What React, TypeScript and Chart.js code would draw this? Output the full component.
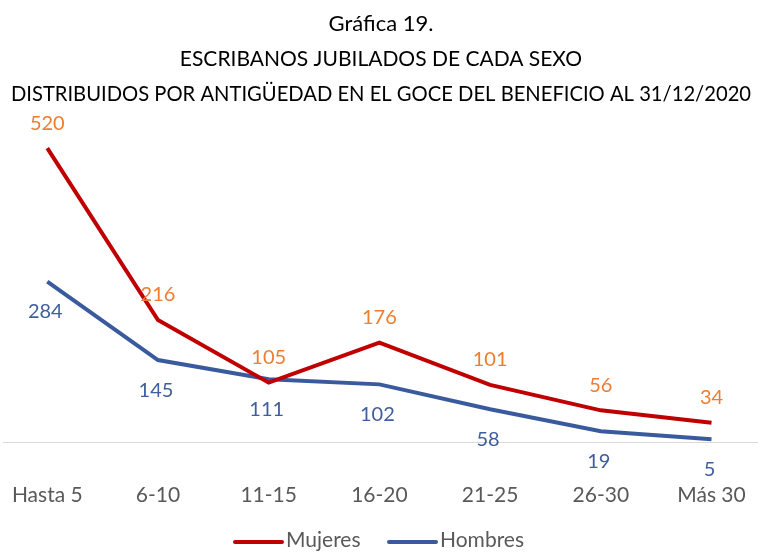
import React, { useEffect, useRef } from "react";
import { Chart, registerables } from "chart.js";

Chart.register(...registerables);

const categories = ["Hasta 5", "6-10", "11-15", "16-20", "21-25", "26-30", "Más 30"];
const mujeres = [520, 216, 105, 176, 101, 56, 34];
const hombres = [284, 145, 111, 102, 58, 19, 5];
const seriesNames = ["Mujeres", "Hombres"];
const titleLines = [
  "Gráfica 19.",
  "ESCRIBANOS JUBILADOS DE CADA SEXO",
  "DISTRIBUIDOS POR ANTIGÜEDAD EN EL GOCE DEL BENEFICIO AL 31/12/2020",
];

const FONT = "Lato, 'Open Sans', sans-serif";
const RED = "#C00000";
const ORANGE = "#ED7D31";
const BLUE = "#3A5A9E";
const BLUE_LABEL = "#3F5E9E";
const GREY = "#595959";

const overlayPlugin = {
  id: "overlay",
  afterDatasetsDraw(chart: any) {
    const ctx = chart.ctx;
    ctx.save();
    ctx.font = `20px ${FONT}`;
    ctx.textAlign = "center";
    ctx.textBaseline = "middle";
    chart.data.datasets.forEach((ds: any, di: number) => {
      const meta = chart.getDatasetMeta(di);
      meta.data.forEach((pt: any, i: number) => {
        const v = ds.data[i].y;
        if (di === 0) {
          ctx.fillStyle = ORANGE;
          ctx.fillText(String(v), pt.x, pt.y - 25);
        } else {
          ctx.fillStyle = BLUE_LABEL;
          ctx.fillText(String(v), pt.x - 2, pt.y + 30);
        }
      });
    });
    ctx.restore();
  },
  afterDraw(chart: any) {
    const ctx = chart.ctx;
    const w = chart.width;
    ctx.save();
    ctx.fillStyle = "#000000";
    ctx.textAlign = "center";
    ctx.textBaseline = "middle";
    const ys = [24, 59, 94];
    const sizes = [22, 21, 20.2];
    titleLines.forEach((t, i) => {
      ctx.font = `${sizes[i]}px ${FONT}`;
      ctx.fillText(t, w / 2 + 2, ys[i]);
    });
    // legend
    ctx.font = `21px ${FONT}`;
    ctx.textAlign = "left";
    const ly = 542;
    const items = [
      { name: seriesNames[0], color: RED, x: 235 },
      { name: seriesNames[1], color: BLUE, x: 389 },
    ];
    items.forEach((it) => {
      ctx.strokeStyle = it.color;
      ctx.lineWidth = 4;
      ctx.lineCap = "round";
      ctx.beginPath();
      ctx.moveTo(it.x, ly);
      ctx.lineTo(it.x + 47, ly);
      ctx.stroke();
      ctx.fillStyle = GREY;
      ctx.fillText(it.name, it.x + 51, ly - 2);
    });
    ctx.restore();
  },
};

export default function App() {
  const ref = useRef<HTMLCanvasElement | null>(null);
  useEffect(() => {
    if (!ref.current) return;
    const chart = new Chart(ref.current, {
      type: "line",
      data: {
        datasets: [
          {
            label: seriesNames[0],
            data: categories.map((_, i) => ({ x: i, y: mujeres[i] })),
            borderColor: RED,
            backgroundColor: RED,
            borderWidth: 4,
            pointRadius: 0,
            tension: 0,
          },
          {
            label: seriesNames[1],
            data: categories.map((_, i) => ({ x: i, y: hombres[i] })),
            borderColor: BLUE,
            backgroundColor: BLUE,
            borderWidth: 4,
            pointRadius: 0,
            tension: 0,
          },
        ],
      },
      options: {
        animation: false,
        responsive: false,
        maintainAspectRatio: false,
        layout: { padding: { top: 103, left: 3, right: 0, bottom: 47 } },
        plugins: {
          legend: { display: false },
          title: { display: false },
          tooltip: { enabled: false },
        },
        scales: {
          x: {
            type: "linear",
            min: -0.4,
            max: 6.42,
            afterBuildTicks: (axis: any) => {
              axis.ticks = categories.map((_, i) => ({ value: i }));
            },
            afterFit: (axis: any) => {
              axis.height = 64;
              axis.paddingLeft = 0;
              axis.paddingRight = 0;
            },
            ticks: {
              autoSkip: false,
              maxRotation: 0,
              padding: 41,
              color: GREY,
              font: { family: FONT, size: 21 },
              callback: (v: any) => categories[Math.round(Number(v))] ?? "",
            },
            grid: { display: false, drawTicks: false },
            border: { display: true, color: "#D9D9D9", width: 1 },
          },
          y: {
            display: false,
            min: 0,
            max: 600,
          },
        },
      },
      plugins: [overlayPlugin],
    });
    return () => chart.destroy();
  }, []);
  return (
    <div style={{ position: "absolute", left: 0, top: 0, width: 758, height: 553, background: "#fff" }}>
      <canvas ref={ref} width={758} height={553} style={{ display: "block" }} />
    </div>
  );
}
